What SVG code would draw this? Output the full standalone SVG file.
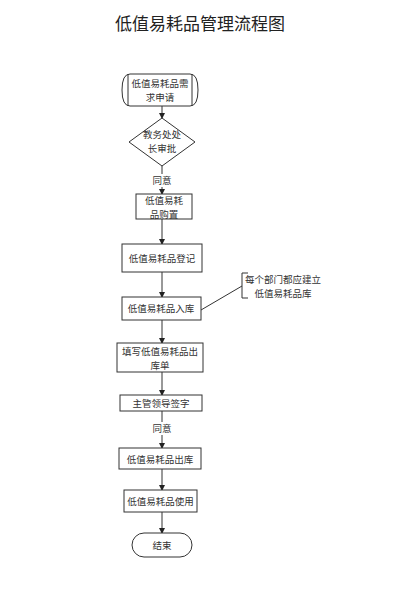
<svg xmlns="http://www.w3.org/2000/svg" width="400" height="607" viewBox="0 0 400 607">
<style>
.s{fill:#fff;stroke:#333;stroke-width:1}
.t{font-family:"Noto Sans CJK SC","Liberation Serif",serif;font-size:9.5px;fill:#333;text-anchor:middle;dominant-baseline:central}
.c{stroke:#333;stroke-width:1;fill:none}
</style>
<defs>
<marker id="a" markerWidth="6" markerHeight="6" refX="5" refY="3" orient="auto" markerUnits="userSpaceOnUse">
<path d="M0,0 L6,3 L0,6 Z" fill="#222"/>
</marker>
</defs>
<rect width="400" height="607" fill="#fff"/>
<text x="200" y="22" style="font-family:'Noto Sans CJK SC',sans-serif;font-size:17px;fill:#222;text-anchor:middle;dominant-baseline:central">低值易耗品管理流程图</text>
<g id="connectors">
<line class="c" x1="162" y1="106" x2="162" y2="118" marker-end="url(#a)"/>
<line class="c" x1="162" y1="166" x2="162" y2="174"/>
<line class="c" x1="162" y1="187" x2="162" y2="194" marker-end="url(#a)"/>
<line class="c" x1="162" y1="219" x2="162" y2="244" marker-end="url(#a)"/>
<line class="c" x1="162" y1="272" x2="162" y2="297" marker-end="url(#a)"/>
<line class="c" x1="162" y1="320" x2="162" y2="343" marker-end="url(#a)"/>
<line class="c" x1="162" y1="372" x2="162" y2="395" marker-end="url(#a)"/>
<line class="c" x1="162" y1="411" x2="162" y2="422"/>
<line class="c" x1="162" y1="435" x2="162" y2="448" marker-end="url(#a)"/>
<line class="c" x1="162" y1="469" x2="162" y2="490" marker-end="url(#a)"/>
<line class="c" x1="162" y1="512" x2="162" y2="533" marker-end="url(#a)"/>
<line class="c" x1="201" y1="310" x2="242" y2="286"/>
<text class="t" x="162" y="180">同意</text>
<text class="t" x="162" y="428">同意</text>
</g>
<g id="start">
<path class="s" d="M130,74 H190 Q198,74 198,90 Q198,106 190,106 H130 Q122,106 122,90 Q122,74 130,74 Z"/>
<line class="c" x1="128" y1="74" x2="128" y2="106"/>
<line class="c" x1="192" y1="74" x2="192" y2="106"/>
<text class="t" x="160" y="83">低值易耗品需</text>
<text class="t" x="160" y="97">求申请</text>
</g>
<g id="approve">
<polygon class="s" points="162,118 195,142 162,166 129,142"/>
<text class="t" x="162" y="134">教务处处</text>
<text class="t" x="162" y="148">长审批</text>
</g>
<g id="purchase">
<rect class="s" x="136" y="194" width="56" height="25"/>
<text class="t" x="164" y="199.5">低值易耗</text>
<text class="t" x="164" y="213.5">品购置</text>
</g>
<g id="register">
<rect class="s" x="122" y="244" width="80" height="28"/>
<text class="t" x="162" y="258">低值易耗品登记</text>
</g>
<g id="storage">
<rect class="s" x="122" y="297" width="79" height="23"/>
<text class="t" x="161" y="308">低值易耗品入库</text>
</g>
<g id="note">
<path class="c" d="M248,273 H242 V298 H248"/>
<text class="t" x="283" y="278.5">每个部门都应建立</text>
<text class="t" x="283" y="292.5">低值易耗品库</text>
</g>
<g id="form">
<rect class="s" x="117" y="343" width="86" height="29"/>
<text class="t" x="160" y="350.5">填写低值易耗品出</text>
<text class="t" x="160" y="364.5">库单</text>
</g>
<g id="sign">
<rect class="s" x="120" y="395" width="82" height="16"/>
<text class="t" x="161" y="403">主管领导签字</text>
</g>
<g id="outbound">
<rect class="s" x="119" y="448" width="82" height="21"/>
<text class="t" x="160" y="458.5">低值易耗品出库</text>
</g>
<g id="use">
<rect class="s" x="124" y="490" width="73" height="22"/>
<text class="t" x="160.5" y="501">低值易耗品使用</text>
</g>
<g id="end">
<rect class="s" x="132" y="533" width="60" height="24" rx="12"/>
<text class="t" x="162" y="545">结束</text>
</g>
</svg>
